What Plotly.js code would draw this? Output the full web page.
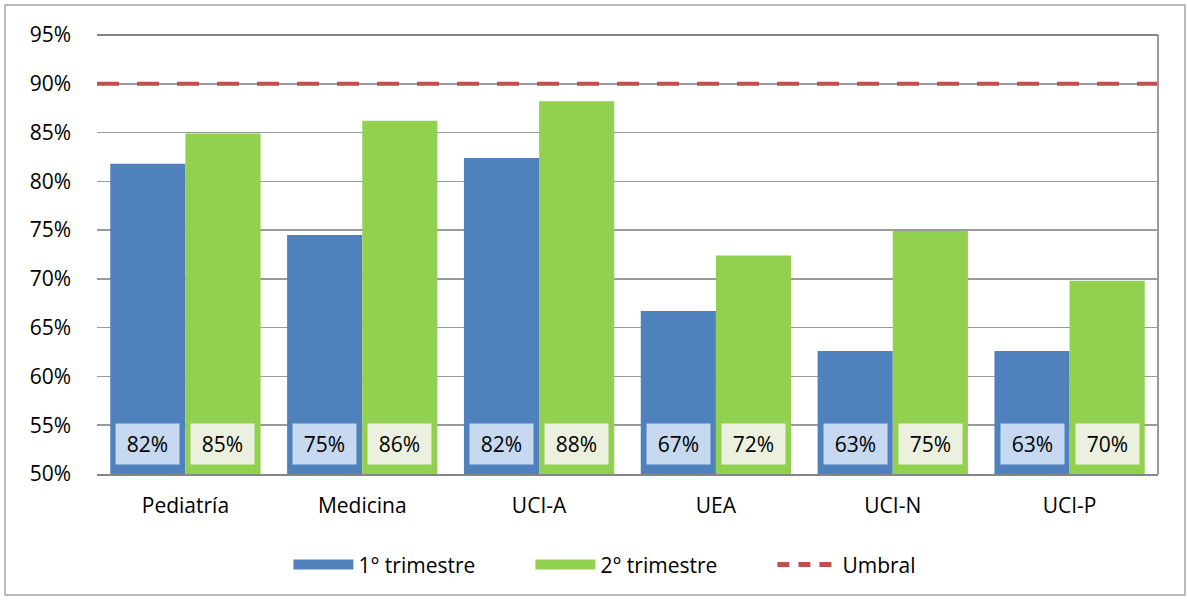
<!DOCTYPE html>
<html><head><meta charset="utf-8">
<script src="https://cdn.plot.ly/plotly-3.0.1.min.js"></script>
<style>body{margin:0;background:#fff}#c{width:1187px;height:600px}</style>
</head><body><div id="c"></div>
<script>
const categories = ["Pediatría","Medicina","UCI-A","UEA","UCI-N","UCI-P"];
const trim1 = [81.8, 74.5, 82.4, 66.7, 62.6, 62.6];
const trim2 = [84.9, 86.2, 88.2, 72.4, 74.9, 69.8];
const umbral = 90;
const seriesNames = ["1° trimestre","2° trimestre","Umbral"];
const yTicks = [50,55,60,65,70,75,80,85,90,95];

const BLUE="#4f81bd", GREEN="#92d050", RED="#c0504d";
const FONT="'Open Sans', sans-serif";
const FS=21;

const traces = [
  {type:"bar", x:categories, y:trim1, name:seriesNames[0], marker:{color:BLUE}, showlegend:false, hoverinfo:"skip"},
  {type:"bar", x:categories, y:trim2, name:seriesNames[1], marker:{color:GREEN}, showlegend:false, hoverinfo:"skip"},
  {type:"scatter", mode:"lines", x:[0,1], y:[umbral,umbral], xaxis:"x2", name:seriesNames[2], showlegend:false,
   line:{color:RED, width:4, dash:"22px,18px"}, hoverinfo:"skip"},
  {type:"scatter", mode:"lines", x:[null], y:[null], name:seriesNames[0], line:{color:BLUE,width:16}},
  {type:"scatter", mode:"lines", x:[null], y:[null], name:seriesNames[1], line:{color:GREEN,width:16}},
  {type:"scatter", mode:"lines", x:[null], y:[null], name:seriesNames[2], line:{color:RED,width:5,dash:"12px,9px"}}
];

const ann = [];
categories.forEach((c,i)=>{
  ann.push({x:c, y:50, xref:"x", yref:"y", xshift:-37.5, yshift:9, yanchor:"bottom", showarrow:false,
    text:Math.round(trim1[i])+"%", bgcolor:"#c6d9f1", width:57, height:34, borderpad:3, font:{size:FS,color:"#000",family:FONT}});
  ann.push({x:c, y:50, xref:"x", yref:"y", xshift:37.5, yshift:9, yanchor:"bottom", showarrow:false,
    text:Math.round(trim2[i])+"%", bgcolor:"#ebf1de", width:57, height:34, borderpad:3, font:{size:FS,color:"#000",family:FONT}});
});

const layout = {
  width:1187, height:600,
  margin:{l:97, r:29, t:35, b:126},
  paper_bgcolor:"#fff", plot_bgcolor:"#fff",
  font:{family:FONT, size:FS, color:"#000"},
  barmode:"group", bargap:0.15, bargroupgap:0,
  showlegend:true,
  legend:{orientation:"h", x:0.1804, xanchor:"left", y:-0.207, yanchor:"middle", font:{size:FS},
    itemwidth:60, entrywidth:167, entrywidthmode:"pixels", traceorder:"normal"},
  xaxis:{type:"category", showgrid:false, showline:true, linecolor:"#868686", linewidth:2, ticks:"", tickfont:{size:FS}, ticklabelstandoff:12, fixedrange:true},
  xaxis2:{overlaying:"x", range:[0,1], visible:false, fixedrange:true},
  yaxis:{range:[50,95], tickvals:yTicks, ticktext:yTicks.map(v=>v+"%"), showgrid:true, gridcolor:"#9a9a9a", gridwidth:1.5,
    zeroline:false, showline:false, ticks:"", ticklabelstandoff:25, tickfont:{size:FS}, fixedrange:true},
  annotations:ann,
  shapes:[
    {type:"line", xref:"paper", yref:"paper", x0:1, x1:1, y0:0, y1:1, line:{color:"#9a9a9a", width:2}},
    {type:"line", xref:"paper", yref:"paper", x0:0, x1:1, y0:1, y1:1, line:{color:"#868686", width:2}},
    {type:"rect", xref:"paper", yref:"paper", x0:-0.0867, x1:1.0254, y0:-0.2756, y1:1.0683, line:{color:"#a6a6a6", width:1.5}, layer:"below"}
  ]
};
Plotly.newPlot("c", traces, layout, {displayModeBar:false, staticPlot:true});
</script></body></html>
